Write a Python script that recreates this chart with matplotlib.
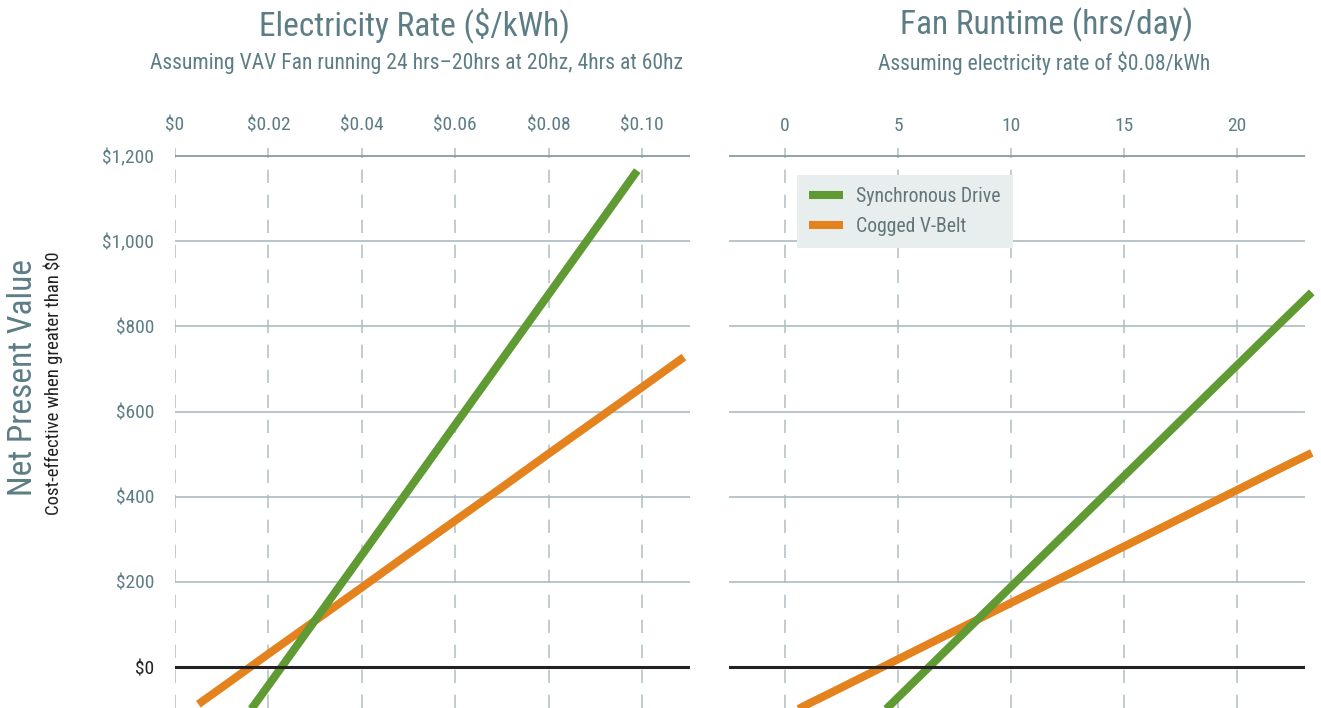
import numpy as np
import matplotlib.pyplot as plt
from matplotlib import font_manager

names = {f.name for f in font_manager.fontManager.ttflist}
condensed = [n for n in ['Roboto Condensed', 'Liberation Sans Narrow', 'DejaVu Sans Condensed'] if n in names]
plt.rcParams['font.family'] = condensed[:1] + ['Roboto', 'DejaVu Sans']

# left panel: NPV vs electricity rate
rate_sync = [0.015, 0.02, 0.03, 0.04, 0.05, 0.06, 0.07, 0.08, 0.09, 0.099]
npv_rate_sync = [-119, -43, 110, 263, 416, 569, 722, 875, 1028, 1166]
rate_belt = [0.005, 0.01, 0.02, 0.03, 0.04, 0.05, 0.06, 0.07, 0.08, 0.09, 0.10, 0.109]
npv_rate_belt = [-87, -48, 31, 109, 187, 266, 344, 422, 501, 579, 657, 728]

# right panel: NPV vs fan runtime
hrs_sync = [4, 5, 6, 7, 8, 10, 12, 14, 16, 18, 20, 22, 23.3]
npv_hrs_sync = [-123, -71, -19, 33, 85, 189, 293, 397, 501, 605, 709, 813, 880]
hrs_belt = [0.5, 1, 2, 4, 6, 8, 10, 12, 14, 16, 18, 20, 22, 23.3]
npv_hrs_belt = [-101, -87, -61, -8, 45, 98, 151, 204, 257, 310, 363, 416, 469, 503]

rate_ticks = [0, 0.02, 0.04, 0.06, 0.08, 0.10]
rate_labels = ['$0', '$0.02', '$0.04', '$0.06', '$0.08', '$0.10']
hrs_ticks = [0, 5, 10, 15, 20]
hrs_labels = ['0', '5', '10', '15', '20']
npv_ticks = [0, 200, 400, 600, 800, 1000, 1200]
npv_labels = ['$0', '$200', '$400', '$600', '$800', '$1,000', '$1,200']

GREEN = '#5f9a33'
ORANGE = '#e4821e'
SLATE = '#5d7d86'
GRID = '#aebbc0'

fig = plt.figure(figsize=(13.21, 7.08), dpi=100)
W, H = 1321, 708
ax1 = fig.add_axes([175 / W, 0, 515 / W, 1 - 148 / H])
ax2 = fig.add_axes([729 / W, 0, 576 / W, 1 - 148 / H])

cond = bool(condensed)
tick_fs = 14 if cond else 12.5
sub_fs = 15.6 if cond else 13.5
title_fs = 24 if cond else 21


def style(ax, xticks, xlabels, xlim):
    ax.set_xlim(*xlim)
    ax.set_ylim(-96, 1219)
    for s in ax.spines.values():
        s.set_visible(False)
    ax.set_xticks(xticks)
    ax.set_xticklabels(xlabels)
    ax.xaxis.tick_top()
    ax.tick_params(axis='x', length=0, pad=9.5, labelsize=tick_fs, labelcolor=SLATE)
    for x in xticks:
        ax.axvline(x, color='#b7c2c6', lw=1.2, ls=(0, (8, 7)), zorder=1)
    for y in npv_ticks[1:]:
        c = '#7f949a' if y == 1200 else GRID
        ax.axhline(y, color=c, lw=1.2, zorder=1)
    ax.axhline(0, color='#222222', lw=2.2, zorder=4)


style(ax1, rate_ticks, rate_labels, (0, 0.1103))
style(ax2, hrs_ticks, hrs_labels, (-2.48, 23.0))

ax1.set_yticks(npv_ticks)
ax1.set_yticklabels(npv_labels)
ax1.tick_params(axis='y', length=0, pad=15, labelsize=tick_fs, labelcolor=SLATE)
ax1.get_yticklabels()[0].set_color('#222222')
ax2.set_yticks([])

ax1.plot(rate_belt, npv_rate_belt, color=ORANGE, lw=5.8, solid_capstyle='butt', zorder=3, clip_on=False)
ax1.plot(rate_sync, npv_rate_sync, color=GREEN, lw=5.8, solid_capstyle='butt', zorder=3, clip_on=False)
hb, = ax2.plot(hrs_belt, npv_hrs_belt, color=ORANGE, lw=5.8, solid_capstyle='butt', zorder=3, clip_on=False)
hs, = ax2.plot(hrs_sync, npv_hrs_sync, color=GREEN, lw=5.8, solid_capstyle='butt', zorder=3, clip_on=False)

leg = fig.legend([hs, hb], ['Synchronous Drive', 'Cogged V-Belt'], loc='upper left',
                 bbox_to_anchor=(797 / W, 1 - 175 / H), bbox_transform=fig.transFigure,
                 frameon=True, fancybox=False, framealpha=1, facecolor='#e8eded', edgecolor='none',
                 fontsize=14.2 if cond else 12.5, handlelength=1.7, handletextpad=0.68,
                 borderpad=0.62, labelspacing=0.55, borderaxespad=0)
for t in leg.get_texts():
    t.set_color('#627579')

fig.text(414 / W, 1 - 25 / H, 'Electricity Rate ($/kWh)', ha='center', va='center', fontsize=title_fs, color=SLATE)
fig.text(417 / W, 1 - 63 / H, 'Assuming VAV Fan running 24 hrs\u201320hrs at 20hz, 4hrs at 60hz',
         ha='center', va='center', fontsize=sub_fs, color=SLATE)
fig.text(1047 / W, 1 - 25 / H, 'Fan Runtime (hrs/day)', ha='center', va='center', fontsize=title_fs, color=SLATE)
fig.text(1044 / W, 1 - 63 / H, 'Assuming electricity rate of $0.08/kWh',
         ha='center', va='center', fontsize=sub_fs, color=SLATE)

fig.text(23 / W, 1 - 378 / H, 'Net Present Value', rotation=90, ha='center', va='center',
         fontsize=title_fs, color=SLATE)
fig.text(53 / W, 1 - 383 / H, 'Cost-effective when greater than $0', rotation=90, ha='center', va='center',
         fontsize=13.5 if cond else 12, color='#222222')

fig.savefig('out.png', dpi=100)
